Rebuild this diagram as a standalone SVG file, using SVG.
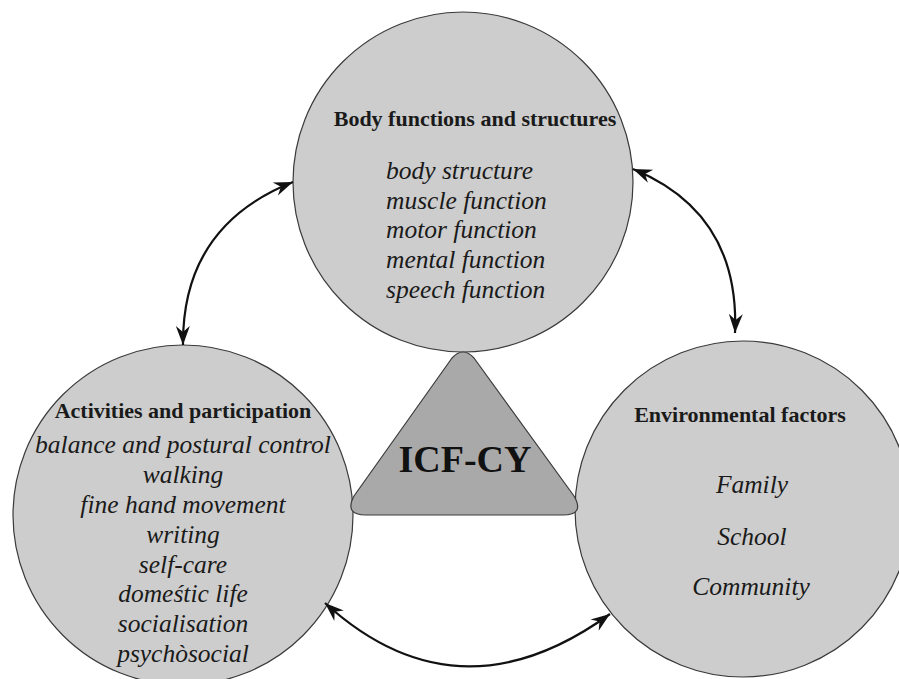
<svg xmlns="http://www.w3.org/2000/svg" width="899" height="679" viewBox="0 0 899 679">
  <style>
    .bubble { fill: #cdcdcd; stroke: #3a3a3a; stroke-width: 1.2; }
    .hub { fill: #a9a9a9; stroke: #3a3a3a; stroke-width: 1.2; stroke-linejoin: round; }
    .title { font-family: "Liberation Serif", "Times New Roman", serif; font-weight: bold; font-size: 22px; fill: #1a1a1a; }
    .item { font-family: "Liberation Serif", "Times New Roman", serif; font-style: italic; font-size: 25.5px; fill: #1a1a1a; }
    .hubtext { font-family: "Liberation Serif", "Times New Roman", serif; font-weight: bold; font-size: 38px; fill: #111; }
    .link { fill: none; stroke: #111; stroke-width: 2.2; marker-start: url(#tip); marker-end: url(#tip); }
  </style>
  <defs>
    <marker id="tip" viewBox="-20 -8 21 16" refX="0" refY="0" markerWidth="21" markerHeight="16" markerUnits="userSpaceOnUse" orient="auto-start-reverse">
      <path d="M0,0 L-19,-7 L-13,0 L-19,7 Z" fill="#111"/>
    </marker>
  </defs>
  <rect width="899" height="679" fill="#ffffff"/>

  <g id="body-functions">
    <circle class="bubble" cx="463" cy="182" r="170"/>
    <text class="title" x="475" y="126" text-anchor="middle">Body functions and structures</text>
    <text class="item" x="386" y="179">body structure</text>
    <text class="item" x="386" y="209">muscle function</text>
    <text class="item" x="386" y="238">motor function</text>
    <text class="item" x="386" y="268">mental function</text>
    <text class="item" x="386" y="298">speech function</text>
  </g>

  <g id="activities">
    <circle class="bubble" cx="183" cy="515" r="170"/>
    <text class="title" x="183" y="418" text-anchor="middle">Activities and participation</text>
    <g text-anchor="middle">
      <text class="item" x="183" y="453">balance and postural control</text>
      <text class="item" x="183" y="483">walking</text>
      <text class="item" x="183" y="513">fine hand movement</text>
      <text class="item" x="183" y="543">writing</text>
      <text class="item" x="183" y="573">self-care</text>
      <text class="item" x="183" y="602">domeśtic life</text>
      <text class="item" x="183" y="632">socialisation</text>
      <text class="item" x="183" y="662">psychòsocial</text>
    </g>
  </g>

  <g id="environment">
    <circle class="bubble" cx="743" cy="509" r="168"/>
    <text class="title" x="740" y="422" text-anchor="middle">Environmental factors</text>
    <g text-anchor="middle">
      <text class="item" x="752" y="493">Family</text>
      <text class="item" x="752" y="545">School</text>
      <text class="item" x="751" y="595">Community</text>
    </g>
  </g>

  <g id="icf-cy">
    <path class="hub" d="M452,358 Q463,346 474,358 L574,496 Q585,515 563,515 L366,515 Q344,515 354,496 Z"/>
    <text class="hubtext" x="465" y="472" text-anchor="middle">ICF-CY</text>
  </g>

  <g id="connectors">
    <path class="link" d="M293,182 Q182,226 183,345"/>
    <path class="link" d="M633,169 Q740,213 735,333"/>
    <path class="link" d="M325,603 Q458,724 610,614"/>
  </g>
</svg>
